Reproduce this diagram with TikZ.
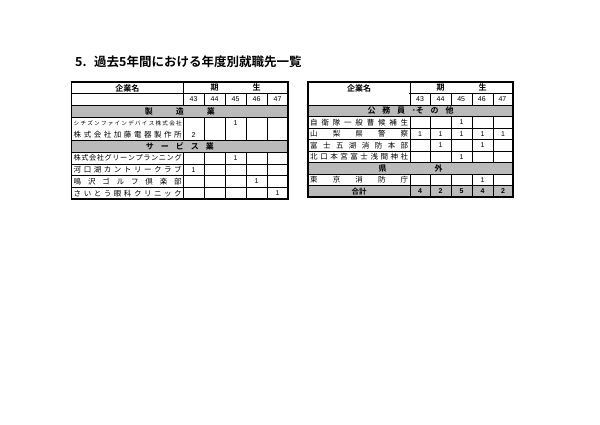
\documentclass[tikz,border=0pt]{standalone}
\usepackage{fontspec}
\setmainfont{Noto Sans CJK JP}
\newfontfamily\jpb{Noto Sans CJK JP Bold}
\newfontfamily\num{Liberation Sans}
\begin{document}
\begin{tikzpicture}[x=1pt,y=-1pt,
  cell/.style={inner sep=0pt,font=\fontsize{7.5}{8}\selectfont},
  numc/.style={inner sep=0pt,font=\num\fontsize{7}{8}\selectfont},
  band/.style={fill=black!27},
  thin/.style={line width=0.5pt},
  thick/.style={line width=1.1pt}]
\useasboundingbox (0,0) rectangle (600,424);
\node[anchor=west,inner sep=0pt,font=\jpb\fontsize{12.5}{14}\selectfont] (title) at (75,62) {5.\hspace{0.6em}過去5年間における年度別就職先一覧};
% generic table macro
\def\rh{11.7}
% ---------- LEFT TABLE ----------
\begin{scope}
\def\L{71.5}\def\N{183}\def\R{288}\def\T{82}\def\B{199}
\fill[band] (\L,{\T+2*\rh}) rectangle (\R,{\T+3*\rh});
\fill[band] (\L,{\T+5*\rh}) rectangle (\R,{\T+6*\rh});
\foreach \i in {1,2,3,5,6,7,8,9} \draw[thin] (\L,{\T+\i*\rh}) -- (\R,{\T+\i*\rh});
\draw[thin] (\N,{\T+\rh}) -- (\R,{\T+\rh});
\draw[thin] (\N,\T) -- (\N,{\T+2*\rh});
\draw[thin] (\N,{\T+3*\rh}) -- (\N,{\T+5*\rh});
\draw[thin] (\N,{\T+6*\rh}) -- (\N,\B);
\foreach \x in {204,225,246,267}{
  \draw[thin] (\x,{\T+\rh}) -- (\x,{\T+2*\rh});
  \draw[thin] (\x,{\T+3*\rh}) -- (\x,{\T+5*\rh});
  \draw[thin] (\x,{\T+6*\rh}) -- (\x,\B);}
\draw[thick] (\L,\T) rectangle (\R,\B);
\node[cell,font=\jpb\fontsize{8}{9}\selectfont] (lh) at ({(\L+\N)/2},{\T+0.55*\rh}) {企業名};
\node[cell,font=\jpb\fontsize{8}{9}\selectfont] (lk) at ({(\N+\R)/2},{\T+0.5*\rh}) {\makebox[50pt][s]{期\hfil 生}};
\foreach \n [count=\k] in {43,44,45,46,47}
  \node[numc] (ly\k) at ({\N+10.5+(\k-1)*21},{\T+1.5*\rh}) {\n};
\node[cell,font=\jpb\fontsize{8}{9}\selectfont] (lb1) at ({(\L+\R)/2},{\T+2.5*\rh}) {\makebox[70pt][s]{製\hfil 造\hfil 業}};
\node[cell,font=\jpb\fontsize{8}{9}\selectfont] (lb2) at ({(\L+\R)/2},{\T+5.5*\rh}) {\makebox[68pt][s]{サ\hfil ー\hfil ビ\hfil ス\hfil 業}};
\def\nx{\L+2}
\node[cell,anchor=west,font=\fontsize{5.6}{6}\selectfont] (ln1) at (\nx,{\T+3.5*\rh}) {\makebox[108pt][s]{シ\hfil チ\hfil ズ\hfil ン\hfil フ\hfil ァ\hfil イ\hfil ン\hfil デ\hfil バ\hfil イ\hfil ス\hfil 株\hfil 式\hfil 会\hfil 社}};
\node[cell,anchor=west] (ln2) at (\nx,{\T+4.5*\rh}) {\makebox[108pt][s]{株\hfil 式\hfil 会\hfil 社\hfil 加\hfil 藤\hfil 電\hfil 器\hfil 製\hfil 作\hfil 所}};
\node[cell,anchor=west,font=\fontsize{7.2}{8}\selectfont] (ln3) at (\nx,{\T+6.5*\rh}) {\makebox[108pt][s]{株\hfil 式\hfil 会\hfil 社\hfil グ\hfil リ\hfil ー\hfil ン\hfil プ\hfil ラ\hfil ン\hfil ニ\hfil ン\hfil グ}};
\node[cell,anchor=west] (ln4) at (\nx,{\T+7.5*\rh}) {\makebox[108pt][s]{河\hfil 口\hfil 湖\hfil カ\hfil ン\hfil ト\hfil リ\hfil ー\hfil ク\hfil ラ\hfil ブ}};
\node[cell,anchor=west] (ln5) at (\nx,{\T+8.5*\rh}) {\makebox[108pt][s]{鳴\hfil 沢\hfil ゴ\hfil ル\hfil フ\hfil 倶\hfil 楽\hfil 部}};
\node[cell,anchor=west] (ln6) at (\nx,{\T+9.5*\rh}) {\makebox[108pt][s]{さ\hfil い\hfil と\hfil う\hfil 眼\hfil 科\hfil ク\hfil リ\hfil ニ\hfil ッ\hfil ク}};
\node[numc] (lv1) at (235.5,{\T+3.5*\rh}) {1};
\node[numc] (lv2) at (193.5,{\T+4.5*\rh}) {2};
\node[numc] (lv3) at (235.5,{\T+6.5*\rh}) {1};
\node[numc] (lv4) at (193.5,{\T+7.5*\rh}) {1};
\node[numc] (lv5) at (256.5,{\T+8.5*\rh}) {1};
\node[numc] (lv6) at (277.5,{\T+9.5*\rh}) {1};
\end{scope}
% ---------- RIGHT TABLE ----------
\begin{scope}
\def\L{308}\def\N{410}\def\R{513}\def\T{82}\def\B{197}
\def\rr{11.5}
\fill[band] (\L,{\T+2*\rr}) rectangle (\R,{\T+3*\rr});
\fill[band] (\L,{\T+7*\rr}) rectangle (\R,{\T+8*\rr});
\fill[band] (\L,{\T+9*\rr}) rectangle (\R,\B);
\foreach \i in {1,2,3,4,5,6,7,8,9} \draw[thin] (\L,{\T+\i*\rr}) -- (\R,{\T+\i*\rr});
\draw[thin,fill=white] (\L,{\T+\rr}) rectangle (\N,{\T+2*\rr});
\draw[thin] (\L,\T) rectangle (\N,{\T+2*\rr});
\fill[white] (\L+0.6,\T+0.6) rectangle (\N-0.6,{\T+2*\rr-0.4});
\draw[thin] (\N,\T) -- (\N,{\T+2*\rr});
\draw[thin] (\N,{\T+3*\rr}) -- (\N,{\T+7*\rr});
\draw[thin] (\N,{\T+8*\rr}) -- (\N,\B);
\foreach \x in {430,451,472,493}{
  \draw[thin] (\x,{\T+\rr}) -- (\x,{\T+2*\rr});
  \draw[thin] (\x,{\T+3*\rr}) -- (\x,{\T+7*\rr});
  \draw[thin] (\x,{\T+8*\rr}) -- (\x,\B);}
\draw[thick] (\L,\T) rectangle (\R,\B);
\node[cell,font=\jpb\fontsize{8}{9}\selectfont] (rh) at ({(\L+\N)/2},{\T+0.55*\rr}) {企業名};
\node[cell,font=\jpb\fontsize{8}{9}\selectfont] (rk) at ({(\N+\R)/2},{\T+0.5*\rr}) {\makebox[50pt][s]{期\hfil 生}};
\foreach \n [count=\k] in {43,44,45,46,47}
  \node[numc] (ry\k) at ({\N+10+(\k-1)*20.6},{\T+1.5*\rr}) {\n};
\node[cell,font=\jpb\fontsize{8}{9}\selectfont] (rb1) at ({(\L+\R)/2},{\T+2.5*\rr}) {\makebox[86pt][s]{公\hfil 務\hfil 員\hfil ･そ\hfil の\hfil 他}};
\node[cell,font=\jpb\fontsize{8}{9}\selectfont] (rb2) at ({(\L+\R)/2},{\T+7.5*\rr}) {\makebox[64pt][s]{県\hfil 外}};
\node[cell,font=\jpb\fontsize{7.5}{9}\selectfont] (rb3) at ({(\L+\N)/2},{\T+9.5*\rr}) {合計};
\def\nx{\L+2}
\node[cell,anchor=west] (rn1) at (\nx,{\T+3.5*\rr}) {\makebox[98pt][s]{自\hfil 衛\hfil 隊\hfil 一\hfil 般\hfil 曹\hfil 候\hfil 補\hfil 生}};
\node[cell,anchor=west] (rn2) at (\nx,{\T+4.5*\rr}) {\makebox[98pt][s]{山\hfil 梨\hfil 県\hfil 警\hfil 察}};
\node[cell,anchor=west] (rn3) at (\nx,{\T+5.5*\rr}) {\makebox[98pt][s]{富\hfil 士\hfil 五\hfil 湖\hfil 消\hfil 防\hfil 本\hfil 部}};
\node[cell,anchor=west] (rn4) at (\nx,{\T+6.5*\rr}) {\makebox[98pt][s]{北\hfil 口\hfil 本\hfil 宮\hfil 富\hfil 士\hfil 浅\hfil 間\hfil 神\hfil 社}};
\node[cell,anchor=west] (rn5) at (\nx,{\T+8.5*\rr}) {\makebox[98pt][s]{東\hfil 京\hfil 消\hfil 防\hfil 庁}};
\node[numc] (rv1) at (461.5,{\T+3.5*\rr}) {1};
\foreach \x [count=\k] in {420,440.5,461.5,482.5,503}
  \node[numc] (rv2\k) at (\x,{\T+4.5*\rr}) {1};
\node[numc] (rv3) at (440.5,{\T+5.5*\rr}) {1};
\node[numc] (rv4) at (482.5,{\T+5.5*\rr}) {1};
\node[numc] (rv5) at (461.5,{\T+6.5*\rr}) {1};
\node[numc] (rv6) at (482.5,{\T+8.5*\rr}) {1};
\foreach \x/\v [count=\k] in {420/4,440.5/2,461.5/5,482.5/4,503/2}
  \node[numc,font=\num\bfseries\fontsize{7}{8}\selectfont] (rt\k) at (\x,{\T+9.5*\rr}) {\v};
\end{scope}
\end{tikzpicture}
\end{document}
